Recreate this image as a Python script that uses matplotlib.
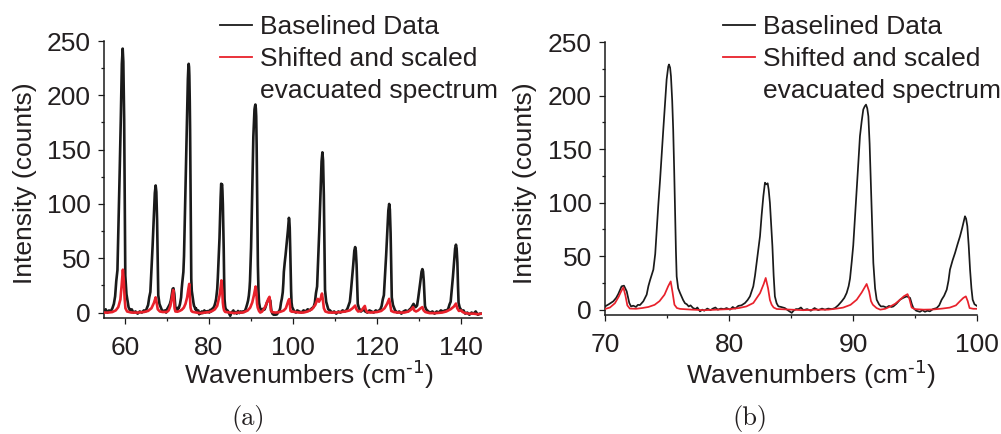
import matplotlib
matplotlib.use("Agg")
import matplotlib.pyplot as plt
from matplotlib.lines import Line2D
from matplotlib.ticker import MultipleLocator

# Baselined Raman data: (wavenumber cm^-1, intensity counts)
baselined_points = [
    (55.0, 1), (55.4, 3), (55.8, 0), (56.2, 2), (56.6, 1), (57.0, 4), (57.35, 8),
    (57.65, 15), (57.92, 29), (58.2, 39), (58.45, 80), (58.73, 129), (59.0, 178),
    (59.25, 229), (59.45, 243), (59.6, 231), (59.8, 178), (59.95, 95), (60.07, 34),
    (60.35, 17), (60.85, 5), (61.2, 2), (61.6, 3), (62.0, 0), (62.5, 1), (63.0, -1),
    (63.5, 1), (64.0, 0), (64.5, 2), (64.9, 1), (65.2, 4), (65.5, 7), (65.77, 14),
    (66.04, 19), (66.3, 39), (66.58, 62), (66.84, 85), (67.1, 110), (67.3, 117),
    (67.46, 111), (67.64, 85), (67.79, 46), (67.92, 16), (68.2, 8), (68.7, 3),
    (69.1, 1), (69.5, 2), (69.8, 0),
    (70.0, 3), (70.3, 5), (70.67, 7.8), (70.9, 11), (71.07, 14.6), (71.34, 21.8),
    (71.53, 22.4), (71.75, 17.1), (71.96, 6.2), (72.1, 3), (72.28, 3.7), (72.5, 2.5),
    (72.65, 4.5), (72.82, 4.3), (73.09, 7.8), (73.36, 14), (73.5, 22), (73.63, 27.4),
    (73.9, 37.4), (74.05, 52), (74.17, 74.7), (74.3, 98), (74.44, 121), (74.57, 145),
    (74.7, 168), (74.84, 192), (74.97, 215), (75.1, 227), (75.16, 229), (75.25, 226),
    (75.32, 218), (75.42, 195), (75.5, 168), (75.58, 130), (75.65, 90), (75.72, 55),
    (75.78, 31), (75.9, 20), (76.05, 15.6), (76.3, 9), (76.45, 6), (76.6, 5),
    (76.75, 3), (76.9, 4), (77.1, 1.5), (77.3, 0.5), (77.45, 2), (77.66, -1.6),
    (77.85, 0), (78.0, -1), (78.25, 1), (78.5, -0.5), (78.7, 1), (78.9, 2), (79.1, 0),
    (79.35, 1), (79.6, 0.5), (79.8, 1.5), (80.08, 0), (80.3, 2.5), (80.5, 1),
    (80.75, 3.5), (81.0, 4), (81.29, 6.2), (81.5, 9), (81.69, 12.4), (81.96, 21.8),
    (82.1, 32), (82.23, 43.7), (82.37, 56), (82.5, 68.6), (82.63, 88), (82.77, 106),
    (82.9, 118.6), (83.0, 117), (83.12, 118), (83.2, 112), (83.3, 99.7), (83.4, 80),
    (83.5, 59.4), (83.6, 32), (83.7, 12.4), (83.84, 6), (83.98, 3.1), (84.2, 2.5),
    (84.5, 1.5), (84.8, -1), (85.06, -3), (85.2, -1), (85.4, 0.5), (85.6, 0.5),
    (85.8, 2), (86.0, -0.5), (86.3, 0.5), (86.6, -1), (86.9, 1.5), (87.2, -0.5),
    (87.5, 1), (87.74, 0), (88.0, 1), (88.3, 0.5), (88.55, 1.5), (88.8, 4),
    (89.09, 7.8), (89.3, 11), (89.49, 15.6), (89.65, 22), (89.76, 29), (89.9, 45),
    (90.02, 60), (90.16, 86), (90.3, 112), (90.43, 137), (90.56, 162), (90.7, 176),
    (90.83, 187), (90.95, 190), (91.05, 191.5), (91.15, 188), (91.24, 180.6),
    (91.34, 155), (91.43, 121), (91.54, 80), (91.64, 43.6), (91.78, 20), (91.91, 9.3),
    (92.1, 5), (92.25, 3), (92.45, 3.1), (92.7, 2), (92.9, 3.5), (93.1, 2.5),
    (93.25, 3), (93.5, 5.5), (93.79, 9.3), (94.05, 11), (94.33, 12.4), (94.6, 11),
    (94.75, 5), (94.87, 1.5), (95.1, -1), (95.4, -2), (95.6, -0.5), (95.8, -2),
    (96.0, -1), (96.2, -1.6), (96.45, 0.5), (96.75, 1.5), (96.95, 4), (97.15, 9.3),
    (97.35, 13), (97.56, 18.7), (97.7, 27), (97.82, 37.4), (98.03, 46), (98.23, 53),
    (98.43, 61), (98.63, 68.5), (98.8, 76), (98.9, 81), (99.03, 87.2), (99.12, 85),
    (99.22, 78), (99.33, 60), (99.44, 37.4), (99.55, 20), (99.65, 9.3), (99.8, 5),
    (99.97, 3.7),
    (100.3, 1), (100.7, 0), (101.0, 2), (101.5, 1), (102.0, 0), (102.5, 2), (103.0, 1),
    (103.5, 3), (104.0, 2), (104.5, 4), (104.9, 5), (105.2, 9), (105.47, 18),
    (105.74, 24), (106.0, 49), (106.28, 78), (106.54, 108), (106.8, 139),
    (107.0, 147.5), (107.16, 140), (107.34, 108), (107.49, 58), (107.62, 21),
    (107.9, 10), (108.4, 3), (108.8, 2), (109.3, 0), (109.8, 1), (110.3, -1),
    (110.8, 1), (111.3, 0), (111.8, 2), (112.3, 1), (112.7, 2), (113.0, 4),
    (113.27, 7), (113.54, 10), (113.8, 20), (114.08, 32), (114.34, 44), (114.6, 57),
    (114.8, 60.3), (114.96, 57), (115.14, 44), (115.29, 24), (115.42, 8), (115.7, 4),
    (116.2, 1), (116.7, 3), (117.2, 1), (117.7, 0), (118.2, 2), (118.7, 1), (119.2, 0),
    (119.7, 2), (120.2, 1), (120.5, 2), (120.8, 3), (121.1, 6), (121.37, 12),
    (121.64, 16), (121.9, 33), (122.18, 53), (122.44, 73), (122.7, 94), (122.9, 100),
    (123.06, 95), (123.24, 73), (123.39, 39), (123.52, 14), (123.8, 7), (124.3, 2),
    (124.8, 0), (125.3, 1), (125.8, -1), (126.3, 1), (126.8, 2), (127.3, 1),
    (127.8, 3), (128.1, 4), (128.4, 6), (128.7, 8), (129.0, 6), (129.2, 5),
    (129.54, 6.5), (129.8, 13), (130.08, 21), (130.34, 29), (130.6, 37.5), (130.8, 40),
    (130.96, 38), (131.14, 29), (131.29, 16), (131.42, 6), (131.7, 3), (132.2, 1),
    (132.7, 0), (133.2, 1), (133.7, -1), (134.2, 1), (134.7, 0), (135.2, 2),
    (135.7, 1), (136.2, 2), (136.7, 2), (137.0, 4), (137.27, 7.5), (137.54, 10),
    (137.8, 21), (138.08, 33), (138.34, 46), (138.6, 59), (138.8, 62.5), (138.96, 59),
    (139.14, 46), (139.29, 24), (139.42, 9), (139.7, 4.5), (140.2, 1.5), (140.6, 2),
    (141.0, -1), (141.5, 0), (142.0, -2), (142.5, 0), (143.0, -1), (143.5, 1),
    (144.0, -2), (144.5, -1), (145.0, -1),
]

# Evacuated reference spectrum after shifting and scaling
evacuated_points = [
    (55.0, 0), (56.0, 0), (57.0, 0.5), (57.8, 2), (58.4, 5), (58.9, 12), (59.2, 25),
    (59.5, 39.5), (59.7, 30), (59.9, 14), (60.1, 4), (60.5, 1), (61.5, 0), (63.0, 0),
    (64.5, 0.5), (65.5, 1.5), (66.3, 4), (66.9, 9), (67.3, 14), (67.5, 10), (67.8, 3),
    (68.3, 1), (69.0, 0.5), (70.0, 0.6), (70.4, 2), (70.8, 6), (71.1, 12), (71.3, 17),
    (71.48, 20.8), (71.65, 13), (71.8, 4), (72.0, 1), (72.5, 0.8), (73.0, 1.5),
    (73.5, 2.5), (74.0, 4.5), (74.4, 8), (74.8, 14), (75.1, 22), (75.3, 26.4),
    (75.45, 16), (75.6, 4.6), (75.8, 1.5), (76.05, 0.7), (77.0, 0), (78.0, -0.5),
    (79.0, 0), (80.1, 0.5), (80.8, 1.5), (81.4, 3), (81.96, 6.2), (82.5, 15.4),
    (82.8, 24), (82.96, 29.6), (83.15, 20), (83.3, 9), (83.44, 4.6), (83.6, 2),
    (83.85, 0.6), (85.0, 0), (86.0, -0.5), (87.0, 0), (88.0, 0), (88.7, 1),
    (89.2, 1.9), (89.8, 4.5), (90.3, 9.3), (90.7, 16), (91.1, 24), (91.3, 17),
    (91.45, 8), (91.6, 4.6), (91.9, 1.5), (92.2, 0), (92.6, 0.8), (93.0, 2.9),
    (93.4, 5.5), (93.8, 9.3), (94.1, 12.5), (94.4, 14.5), (94.55, 10), (94.73, 2),
    (95.0, 0.5), (95.7, 0), (96.5, 0.2), (97.2, 1), (97.8, 1.9), (98.3, 4), (98.6, 7.6),
    (98.9, 11), (99.1, 12.4), (99.25, 8), (99.4, 1.5), (99.7, 0.8), (100.0, 0.8),
    (100.5, 0.5), (101.5, 0), (102.5, 0), (103.5, 1), (104.5, 3), (105.3, 7),
    (105.7, 11), (105.9, 12.6), (106.2, 10), (106.6, 13), (106.9, 17.5), (107.1, 12),
    (107.35, 4), (107.7, 1), (108.5, 0), (110.0, 0), (111.5, 0.5), (112.5, 1),
    (113.5, 2), (114.2, 4), (114.8, 6.4), (115.1, 3), (115.5, 1), (116.2, 1.5),
    (116.7, 4), (117.1, 6.1), (117.3, 3), (117.6, 0.5), (118.5, 0), (120.0, 0.5),
    (121.0, 1.5), (121.8, 4), (122.4, 8), (122.9, 12.6), (123.15, 7), (123.4, 1.5),
    (124.0, 0.5), (125.0, 0), (126.5, 0), (127.5, 1), (128.2, 3), (128.6, 5),
    (128.85, 2), (129.3, 1), (129.8, 2), (130.4, 4), (130.8, 5), (131.1, 2),
    (131.5, 0.5), (132.5, -0.5), (134.0, -0.5), (135.5, 0), (136.5, 1), (137.5, 3),
    (138.3, 5.5), (138.8, 8.3), (139.1, 4), (139.5, 1.5), (140.0, 2), (140.4, 0.5),
    (141.0, -0.5), (142.0, -1), (143.0, -1), (144.0, -1.5), (145.0, -1),
]

legend_labels = ["Baselined Data", "Shifted and scaled", "evacuated spectrum"]
x_label = r"Wavenumbers (cm$^{\text{-1}}$)"
y_label = "Intensity (counts)"
panel_captions = ["(a)", "(b)"]
y_limits = (-5, 250)
x_limits = [(55, 145), (70, 100)]
x_major_steps = [20, 10]
x_minor_steps = [10, 5]

wn_black = [p[0] for p in baselined_points]
int_black = [p[1] for p in baselined_points]
wn_red = [p[0] for p in evacuated_points]
int_red = [p[1] for p in evacuated_points]

TEXT = "#231f20"
BLACK = "#1a1a1a"
RED = "#e8212b"
FS = 19

plt.rcParams["font.family"] = ["Liberation Sans", "DejaVu Sans"]
plt.rcParams["mathtext.default"] = "regular"

fig = plt.figure(figsize=(10.01, 4.34), dpi=100)
W, H = 1001, 434
axes_px = [(104, 41, 482, 318), (605, 42, 977, 315)]
line_widths = [1.9, 1.25]
legend_px = [(220, 15), (723, 15)]
caption_px = [(248, 418), (750, 419)]
xlabel_coords = [(0.542, -0.145), (0.554, -0.158)]
ylabel_coords = [(-0.178, 0.487), (-0.183, 0.483)]

for i in range(2):
    l, t, r, b = axes_px[i]
    ax = fig.add_axes([l / W, 1 - b / H, (r - l) / W, (b - t) / H])
    ax.plot(wn_black, int_black, color=BLACK, lw=line_widths[i], zorder=2)
    ax.plot(wn_red, int_red, color=RED, lw=line_widths[i], zorder=3)
    ax.set_xlim(*x_limits[i])
    ax.set_ylim(*y_limits)
    ax.xaxis.set_major_locator(MultipleLocator(x_major_steps[i]))
    ax.xaxis.set_minor_locator(MultipleLocator(x_minor_steps[i]))
    ax.yaxis.set_major_locator(MultipleLocator(50))
    ax.yaxis.set_minor_locator(MultipleLocator(25))
    for side in ("top", "right"):
        ax.spines[side].set_visible(False)
    for side in ("left", "bottom"):
        ax.spines[side].set_linewidth(1.1)
        ax.spines[side].set_color(BLACK)
    ax.tick_params(which="major", direction="out", length=4.3, width=0.9,
                   color=BLACK, labelsize=FS, labelcolor=TEXT)
    ax.tick_params(which="minor", direction="out", length=2.4, width=0.9, color=BLACK)
    ax.tick_params(axis="x", which="major", pad=9)
    ax.tick_params(axis="y", which="major", pad=5)
    ax.set_xlabel(x_label, fontsize=FS, color=TEXT)
    ax.set_ylabel(y_label, fontsize=FS, color=TEXT)
    ax.xaxis.set_label_coords(*xlabel_coords[i])
    ax.yaxis.set_label_coords(*ylabel_coords[i])

    handles = [Line2D([], [], color=BLACK, lw=1.3),
               Line2D([], [], color=RED, lw=1.3),
               Line2D([], [], color="none", lw=0)]
    lx, ly = legend_px[i]
    leg = ax.legend(handles, legend_labels, loc="upper left",
                    bbox_to_anchor=(lx / W, 1 - ly / H), bbox_transform=fig.transFigure,
                    frameon=False, fontsize=FS, handlelength=1.2, handletextpad=0.3,
                    labelspacing=0.3, borderpad=0, borderaxespad=0)
    for txt in leg.get_texts():
        txt.set_color(TEXT)

    cx, cy = caption_px[i]
    fig.text(cx / W, 1 - cy / H, panel_captions[i], ha="center", va="center",
             family="cmr10", fontsize=19, color=TEXT)

fig.savefig("out.png", dpi=100)
